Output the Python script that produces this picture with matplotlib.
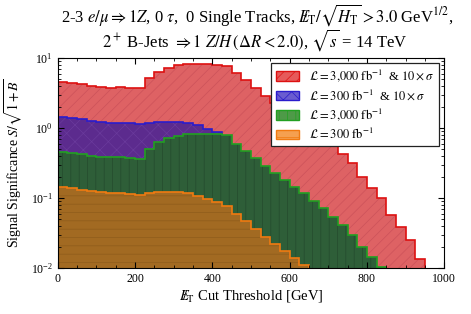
import numpy as np
import matplotlib
matplotlib.use("Agg")
import matplotlib.pyplot as plt
from matplotlib.patches import Patch

plt.rcParams['font.family'] = ['Liberation Serif', 'DejaVu Serif']
plt.rcParams['mathtext.fontset'] = 'stix'
plt.rcParams['hatch.linewidth'] = 0.5

bin_width = 25
# signal significance per MET cut bin (0, 25, 50, ... GeV)
red_3000_10x = [4.50, 4.35, 4.21, 3.98, 3.85, 3.77, 3.81, 3.73, 3.69, 5.13,
                6.37, 7.20, 7.94, 8.20, 8.30, 8.20, 7.94, 7.76, 6.16, 4.80,
                3.69, 2.90, 2.30, 1.80, 1.40, 1.10, 0.86, 0.674, 0.558, 0.42,
                0.313, 0.202, 0.14, 0.099, 0.057, 0.039, 0.025, 0.0135]
blue_300_10x = [1.42, 1.39, 1.33, 1.26, 1.22, 1.19, 1.19, 1.17, 1.13, 1.18,
                1.21, 1.21, 1.21, 1.17, 1.09, 0.97, 0.87]
green_3000 = [0.449, 0.44, 0.42, 0.40, 0.39, 0.38, 0.38, 0.373, 0.366, 0.51,
              0.625, 0.71, 0.776, 0.82, 0.83, 0.83, 0.81, 0.79, 0.60, 0.47,
              0.37, 0.29, 0.225, 0.18, 0.145, 0.117, 0.091, 0.071, 0.054, 0.041,
              0.0296, 0.020, 0.0145, 0.0105]
orange_300 = [0.142, 0.139, 0.132, 0.126, 0.122, 0.119, 0.119, 0.116, 0.111, 0.118,
              0.122, 0.123, 0.122, 0.119, 0.108, 0.0955, 0.087, 0.077, 0.060, 0.0475,
              0.036, 0.028, 0.0221, 0.0175, 0.0141, 0.0112]

labels = [r"$\mathcal{L} = 3{,}000\ \mathrm{fb}^{-1}$  & $10\times\sigma$",
          r"$\mathcal{L} = 300\ \mathrm{fb}^{-1}$  & $10\times\sigma$",
          r"$\mathcal{L} = 3{,}000\ \mathrm{fb}^{-1}$",
          r"$\mathcal{L} = 300\ \mathrm{fb}^{-1}$"]

title1 = (r"2-3 $e/\mu \Rightarrow 1Z$, 0 $\tau$,  0 Single Tracks, "
          r"$E\!\!\!/_{\mathrm{T}}/\sqrt{H_{\mathrm{T}}} > 3.0$ GeV$^{1/2}$,")
title2 = r"$2^+$ B-Jets $\Rightarrow 1\ Z/H\,(\Delta R < 2.0)$, $\sqrt{s}$ = 14 TeV"

series = [red_3000_10x, blue_300_10x, green_3000, orange_300]
fills = ['#de6264', '#5c2b8e', '#2e5e38', '#a26a22']
hatch_cols = ['#cc525a', '#6a3a9c', '#244a2d', '#8e5c1c']
hatches = ['///', 'xx', '||', '--']
lines = ['#dd1111', '#2a1ccc', '#22a022', '#f07a10']
legend_fill = ['#e65a5a', '#6a5cd0', '#4e9a48', '#f5a050']

fig = plt.figure(figsize=(4.71, 3.14), dpi=100)
ax = fig.add_axes([0.1225, 0.1465, 0.8205, 0.6685])

for vals, fc, hc, h, lc in zip(series, fills, hatch_cols, hatches, lines):
    vals = np.array(vals)
    edges = np.arange(len(vals) + 1) * bin_width
    ax.stairs(vals, edges, fill=True, baseline=1e-3, facecolor=fc,
              edgecolor=hc, hatch=h, linewidth=0)
    ax.stairs(vals, edges, baseline=1e-3, color=lc, linewidth=1.2)

ax.set_yscale('log')
ax.set_xlim(0, 1000)
ax.set_ylim(1e-2, 1e1)
ax.set_xticks(np.arange(0, 1001, 200))
ax.set_xticks(np.arange(0, 1001, 50), minor=True)
ax.tick_params(which='both', direction='in', top=True, right=True, labelsize=8.5)
ax.tick_params(which='major', length=4)
ax.tick_params(which='minor', length=2)

ax.set_xlabel(r"$E\!\!\!/_{\mathrm{T}}$ Cut Threshold [GeV]", fontsize=10.5, labelpad=2)
ax.set_ylabel(r"Signal Significance $S/\sqrt{1+B}$", fontsize=10, labelpad=4)
fig.text(0.545, 0.93, title1, fontsize=12, ha='center', va='baseline')
fig.text(0.54, 0.853, title2, fontsize=12, ha='center', va='baseline')

handles = [Patch(facecolor=f, edgecolor=l, hatch=h, linewidth=1)
           for f, l, h in zip(legend_fill, lines, hatches)]
leg = ax.legend(handles, labels, loc='upper right', fontsize=9, fancybox=False,
                edgecolor='#222222', framealpha=1, handlelength=1.9,
                handleheight=0.8, borderaxespad=0.4, labelspacing=0.3,
                borderpad=0.35)
leg.get_frame().set_linewidth(0.9)

fig.savefig('out.png', dpi=100)
